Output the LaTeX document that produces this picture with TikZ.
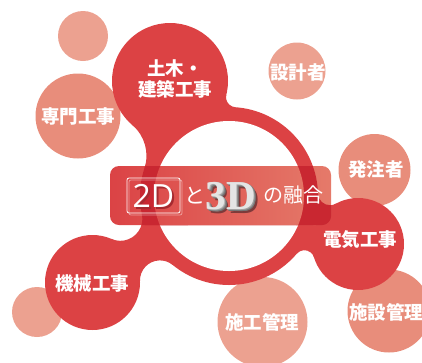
\documentclass[tikz,border=0pt]{standalone}
\usepackage{fontspec}
\newfontfamily\jp{Noto Sans CJK JP}
\newfontfamily\twod{Open Sans}
\newfontfamily\threed{Liberation Serif}
\definecolor{redc}{HTML}{DC4244}
\definecolor{darkc}{HTML}{C92731}
\definecolor{salmon}{HTML}{E88D7B}
\definecolor{salmonlt}{HTML}{ECA190}
\definecolor{bnL}{HTML}{DB4345}
\definecolor{bnR}{HTML}{E57A6A}
\definecolor{shd2}{HTML}{A52A30}
\definecolor{shd3}{HTML}{7E3A3A}
\definecolor{ext3}{HTML}{8A8A8A}
\definecolor{face3}{HTML}{E4E4E4}
% neck between two circles: style, x1,y1,r1, x2,y2,r2, fillet radius, side
\newcommand\neckfill[9]{%
 \pgfmathsetmacro\nkdx{#5-#2}\pgfmathsetmacro\nkdy{#6-#3}%
 \pgfmathsetmacro\nkd{veclen(\nkdx/10,\nkdy/10)*10}%
 \pgfmathsetmacro\nka{#4+#8}\pgfmathsetmacro\nkb{#7+#8}%
 \pgfmathsetmacro\nkx{(\nka-\nkb)/(2*\nkd)*(\nka+\nkb)+\nkd/2}%
 \pgfmathsetmacro\nkh{sqrt(max(\nka*\nka-\nkx*\nkx,0))}%
 \pgfmathsetmacro\nkux{\nkdx/\nkd}\pgfmathsetmacro\nkuy{\nkdy/\nkd}%
 \pgfmathsetmacro\nkfx{#2+\nkx*\nkux-(#9)*\nkh*\nkuy}%
 \pgfmathsetmacro\nkfy{#3+\nkx*\nkuy+(#9)*\nkh*\nkux}%
 \pgfmathsetmacro\nkta{atan2(#3-\nkfy,#2-\nkfx)}%
 \pgfmathsetmacro\nktb{atan2(#6-\nkfy,#5-\nkfx)}%
 \pgfmathsetmacro\nktb{\nktb+360*((\nktb-\nkta)<-180)-360*((\nktb-\nkta)>180)}%
 \pgfmathsetmacro\nkpx{\nkfx+#8*cos(\nkta)}%
 \pgfmathsetmacro\nkpy{\nkfy+#8*sin(\nkta)}%
 \pgfmathsetmacro\nkmx{(#2+#5)/2+(#9)*4*\nkuy}%
 \pgfmathsetmacro\nkmy{(#3+#6)/2-(#9)*4*\nkux}%
 \fill[#1] (#2,#3) -- (\nkpx,\nkpy) arc[start angle=\nkta,end angle=\nktb,radius=#8] -- (#5,#6) -- (\nkmx,\nkmy) -- cycle;}
% stacked copy of a text, shifted right and down, taking no room
\newcommand\lay[4]{\rlap{\smash{\hspace{#1pt}\raisebox{-#2pt}{\textcolor{#3}{#4}}}}}
\begin{document}
\begin{tikzpicture}[x=1pt,y=-1pt,
  lbl/.style={text=white,font=\jp\bfseries\fontsize{18.5}{21.5}\selectfont,inner sep=0pt,align=center}]
\useasboundingbox (0,0) rectangle (422,362);
% light circles
\coordinate (sTL) at (83,36);
\coordinate (cSenmon) at (78,116);
\coordinate (cSekkei) at (297,71);
\coordinate (cHatchu) at (374.5,170);
\coordinate (cShisetsu) at (389,311);
\coordinate (cSekou) at (262.5,322);
\coordinate (sBL) at (37,312);
\fill[salmonlt] (sTL) circle[radius=25];
\fill[salmon] (cSenmon) circle[radius=42.5];
\fill[salmonlt] (cSekkei) circle[radius=28.5];
\fill[salmon] (cHatchu) circle[radius=36];
\fill[salmon] (cShisetsu) circle[radius=41.5];
\fill[salmonlt] (cSekou) circle[radius=45];
\fill[salmonlt] (sBL) circle[radius=25];
% red ring and circles
\coordinate (ring) at (229,196);
\coordinate (cDoboku) at (170,81);
\coordinate (cKikai) at (92.5,282.5);
\coordinate (cDenki) at (358,244);
\fill[redc] (ring) circle[radius=89];
\fill[redc] (cDoboku) circle[radius=58];
\fill[redc] (cKikai) circle[radius=47.5];
\fill[redc] (cDenki) circle[radius=46];
\neckfill{redc}{170}{81}{58}{229}{196}{89}{40}{1}
\neckfill{redc}{170}{81}{58}{229}{196}{89}{10}{-1}
\neckfill{redc}{92.5}{282.5}{47.5}{229}{196}{89}{22}{-1}
\neckfill{redc}{92.5}{282.5}{47.5}{229}{196}{89}{20}{1}
\neckfill{redc}{229}{196}{89}{358}{244}{46}{12}{-1}
\neckfill{redc}{229}{196}{89}{358}{244}{46}{10}{1}
\fill[white] (ring) circle[radius=75];
% banner
\shade[left color=bnL, right color=bnR, rounded corners=9pt] (110,166) rectangle (331,225);
\begin{scope}
 \clip[rounded corners=9pt] (110,166) rectangle (331,225);
 \fill[darkc] (ring) circle[radius=89];
 \fill[darkc] (cDenki) circle[radius=46];
 \neckfill{darkc}{229}{196}{89}{358}{244}{46}{12}{-1}
 \neckfill{darkc}{92.5}{282.5}{47.5}{229}{196}{89}{22}{-1}
 \neckfill{darkc}{170}{81}{58}{229}{196}{89}{40}{1}
 \clip (ring) circle[radius=75];
 \shade[left color=bnL, right color=bnR] (110,166) rectangle (331,225);
\end{scope}
% banner text
\draw[white, opacity=0.45, line width=0.7pt, rounded corners=2pt] (129,180) rectangle (182,215);
\draw[white, line width=0.8pt, rounded corners=2pt] (127,178) rectangle (180,213);
\node[inner sep=0pt, font=\twod\fontsize{32}{32}\selectfont] (t2d) at (153.5,195.5)
  {\lay{2}{2}{shd2}{2D}\textcolor{white}{2D}};
\node[text=white, inner sep=0pt, font=\jp\fontsize{21}{21}\selectfont] (tto) at (195,196) {と};
\node[inner sep=0pt, font=\threed\bfseries\fontsize{41}{41}\selectfont] (t3d) at (231,196)
  {\lay{4}{4}{shd3}{3D}\lay{2.4}{2.4}{ext3!80!black}{3D}\lay{2}{2}{ext3!85!black}{3D}\lay{1.6}{1.6}{ext3!90!black}{3D}\lay{1.2}{1.2}{ext3}{3D}\lay{0.8}{0.8}{ext3!80!white}{3D}\lay{0.4}{0.4}{ext3!60!white}{3D}\textcolor{face3}{3D}};
\node[text=white, inner sep=0pt, font=\jp\fontsize{20}{20}\selectfont] (tyugo) at (293,195) {の融合};
% labels
\node[lbl] (doboku) at (175,79) {土木・\\建築工事};
\node[lbl] (senmon) at (cSenmon) {専門工事};
\node[lbl] (sekkei) at (298,72) {設計者};
\node[lbl] (hatchu) at (376,169) {発注者};
\node[lbl] (denki) at (360,240) {電気工事};
\node[lbl] (kikai) at (92,283) {機械工事};
\node[lbl] (sekou) at (262,322) {施工管理};
\node[lbl] (shisetsu) at (386,312) {施設管理};
\end{tikzpicture}
\end{document}
